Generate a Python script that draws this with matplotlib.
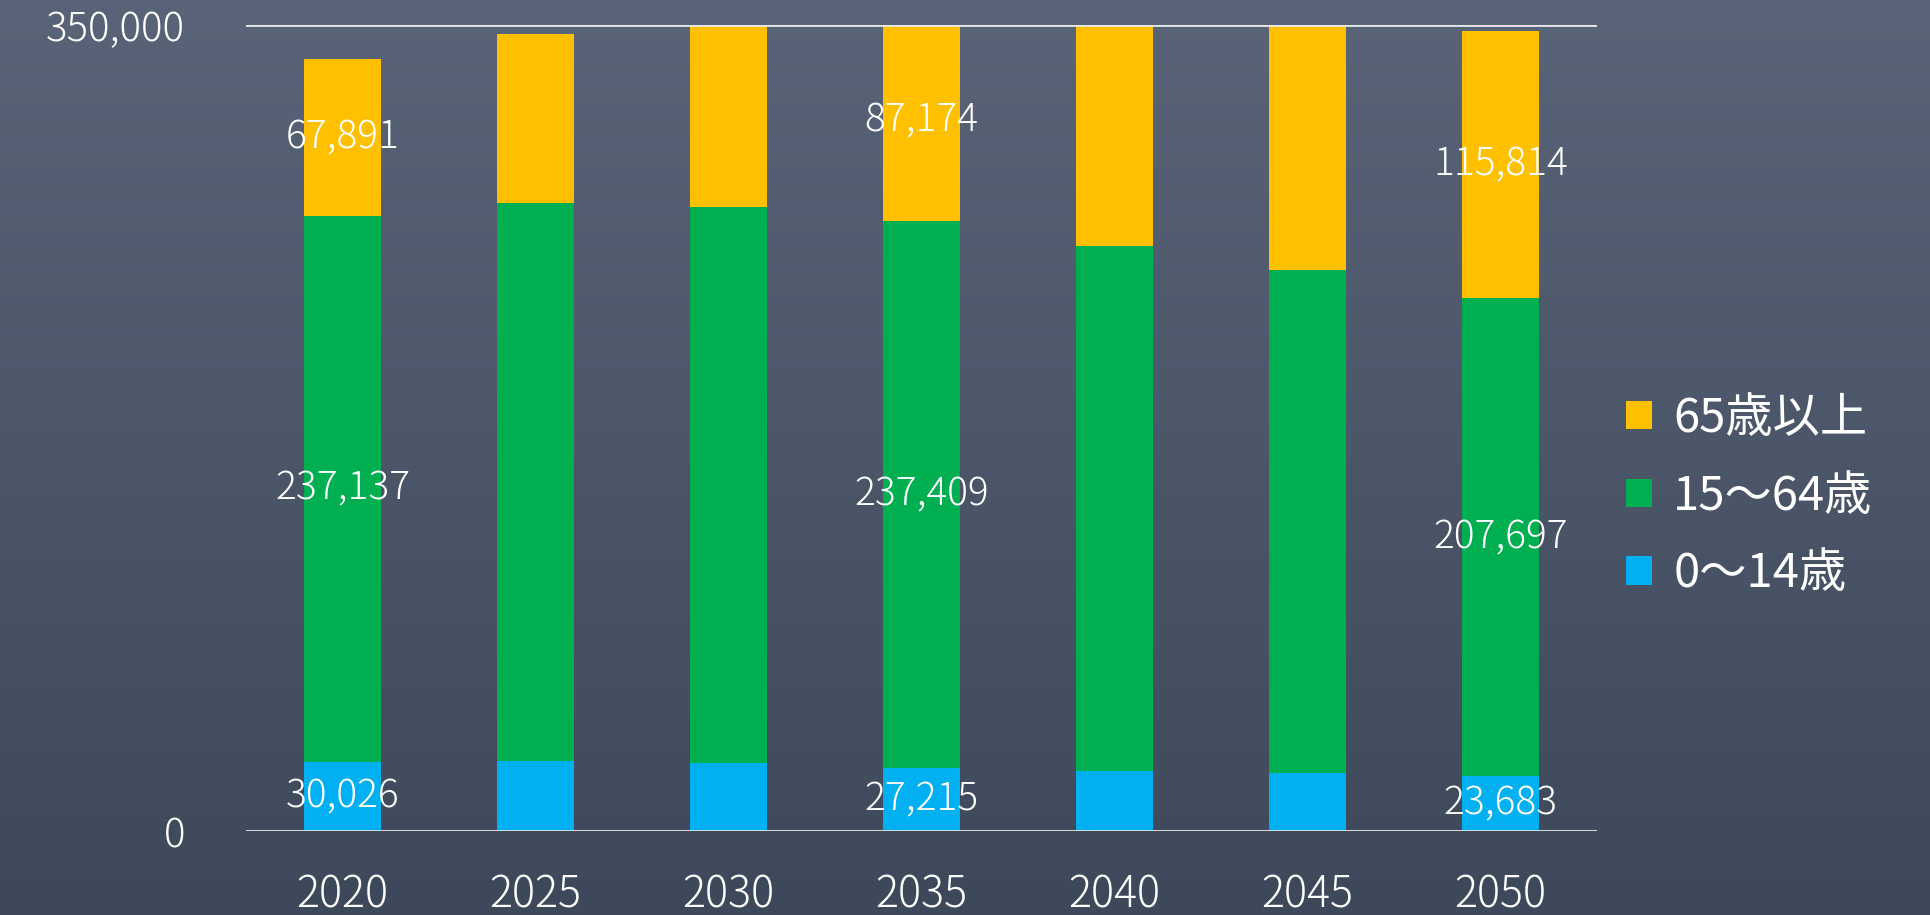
import numpy as np
import matplotlib
matplotlib.use("Agg")
import matplotlib.pyplot as plt

plt.rcParams['font.family'] = ['Noto Sans CJK JP', 'DejaVu Sans']

years = ["2020", "2025", "2030", "2035", "2040", "2045", "2050"]
age_0_14 = [30026, 30450, 29400, 27215, 26200, 25100, 23683]
age_15_64 = [237137, 242000, 241500, 237409, 227600, 218500, 207697]
age_65_plus = [67891, 73700, 80500, 87174, 97500, 107000, 115814]
labeled = [0, 3, 6]

series_names = ["0～14歳", "15～64歳", "65歳以上"]
colors = ["#00B0F0", "#00B050", "#FFC000"]

fig = plt.figure(figsize=(19.3, 9.15), dpi=100)

# background gradient
bg = fig.add_axes([0, 0, 1, 1])
grad = np.linspace(0, 1, 256).reshape(-1, 1)
top = np.array([0x5a, 0x64, 0x78]) / 255
bot = np.array([0x3d, 0x48, 0x5a]) / 255
img = top + (bot - top) * grad[:, :, None]
bg.imshow(img, aspect="auto", extent=[0, 1, 0, 1])
bg.axis("off")

ax = fig.add_axes([0.1275, 0.0918, 0.70, 0.8812])
ax.patch.set_alpha(0)

x = np.arange(len(years))
data = [age_0_14, age_15_64, age_65_plus]
bottom = np.zeros(len(years))
bars = []
for vals, name, c in zip(data, series_names, colors):
    vals = np.array(vals, dtype=float)
    b = ax.bar(x, vals, 0.4, bottom=bottom, color=c, label=name, zorder=2)
    bars.append(b)
    for i in labeled:
        ax.text(x[i], bottom[i] + vals[i] / 2, f"{int(vals[i]):,}", ha="center",
                va="center", color="white", fontsize=28, fontweight="light", zorder=4)
    bottom += vals

ax.set_xlim(-0.5, 6.5)
ax.set_ylim(0, 350000)
ax.axhline(0, color="#e8e8e8", lw=2, zorder=3)
ax.axhline(350000, color="#e8e8e8", lw=2, zorder=3)
ax.set_yticks([0, 350000])
ax.set_yticklabels(["0", "350,000"])
ax.set_xticks(x)
ax.set_xticklabels(years)
ax.tick_params(axis="y", length=0, pad=44, labelsize=29, labelcolor="white")
ax.tick_params(axis="x", length=0, pad=30, labelsize=31, labelcolor="white")
for lab in ax.get_xticklabels() + ax.get_yticklabels():
    lab.set_fontweight("light")
for s in ax.spines.values():
    s.set_visible(False)

handles = [bars[2], bars[1], bars[0]]
leg = ax.legend(handles, [series_names[2], series_names[1], series_names[0]],
                loc="center left", bbox_to_anchor=(0.99, 0.415), frameon=False,
                fontsize=34, labelcolor="white", handlelength=0.55, handleheight=0.55,
                handletextpad=0.45, labelspacing=0.62)

fig.savefig("out.png", dpi=100)
